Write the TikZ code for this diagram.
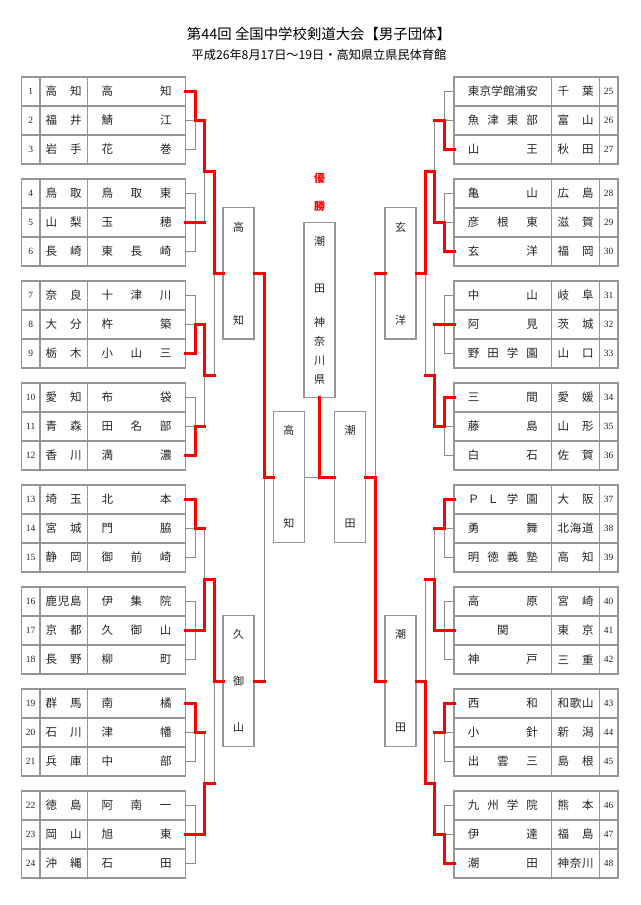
\documentclass[tikz,border=0pt]{standalone}
\usepackage{fontspec}
\setmainfont{Noto Sans CJK JP}
\newfontfamily\numfont{Liberation Serif}
\usetikzlibrary{calc}

\definecolor{tabgray}{RGB}{150,150,150}
\definecolor{lingray}{RGB}{140,140,140}
\definecolor{inkgray}{RGB}{35,35,35}

\makeatletter
\newcommand\spreadbox[2]{%
  \edef\spr@list{#2}%
  \makebox[#1][s]{\expandafter\@tfor\expandafter\spr@ch\expandafter:\expandafter=\spr@list\do{\spr@ch\hfill}\unskip}}
\makeatother

\begin{document}
\begin{tikzpicture}[x=1pt,y=-1pt,
    cell/.style={draw=tabgray,line width=1.3pt,minimum height=29pt,inner sep=0pt,outer sep=0pt,
        text=inkgray,font=\fontsize{11.5}{13}\selectfont},
    numcell/.style={cell,minimum width=18.5pt,font=\numfont\fontsize{9.5}{11}\selectfont},
    prefcell/.style={cell,minimum width=47.8pt},
    teamcell/.style={cell,minimum width=97.6pt},
    vbox/.style={draw=tabgray,line width=1.3pt,minimum width=31pt,inner sep=0pt,outer sep=0pt,
        align=center,text=inkgray,font=\fontsize{11}{13}\selectfont},
    gline/.style={draw=lingray,line width=1pt},
    rline/.style={draw=red,line width=3pt,line cap=rect}]

    \useasboundingbox (0,0) rectangle (640,905);

    \node[font=\fontsize{14.4}{16}\selectfont] (title) at (319,34)
        {第44回 全国中学校剣道大会【男子団体】};
    \node[font=\fontsize{12.2}{14}\selectfont] (venue) at (319,55)
        {平成26年8月17日～19日・高知県立県民体育館};

    % left table
    \foreach \n/\pref/\team in {
        1/高知/高知, 2/福井/鯖江, 3/岩手/花巻,
        4/鳥取/鳥取東, 5/山梨/玉穂, 6/長崎/東長崎,
        7/奈良/十津川, 8/大分/杵築, 9/栃木/小山三,
        10/愛知/布袋, 11/青森/田名部, 12/香川/満濃,
        13/埼玉/北本, 14/宮城/門脇, 15/静岡/御前崎,
        16/鹿児島/伊集院, 17/京都/久御山, 18/長野/柳町,
        19/群馬/南橘, 20/石川/津幡, 21/兵庫/中部,
        22/徳島/阿南一, 23/岡山/旭東, 24/沖縄/石田}{
        \pgfmathsetmacro\y{91.5+102*floor((\n-1)/3)+29*mod(\n-1,3)}
        \node[numcell] (n\n) at (30.7,\y) {\n};
        \node[prefcell] (p\n) at (63.7,\y) {\spreadbox{36pt}{\pref}};
        \node[teamcell] (t\n) at (136.5,\y) {\spreadbox{70pt}{\team}};
    }

    % right table
    \foreach \n/\team/\pref in {
        25/東京学館浦安/千葉, 26/魚津東部/富山, 27/山王/秋田,
        28/亀山/広島, 29/彦根東/滋賀, 30/玄洋/福岡,
        31/中山/岐阜, 32/阿見/茨城, 33/野田学園/山口,
        34/三間/愛媛, 35/藤島/山形, 36/白石/佐賀,
        37/ＰＬ学園/大阪, 38/勇舞/北海道, 39/明徳義塾/高知,
        40/高原/宮崎, 41/{\hfil 関\hfil}/東京, 42/神戸/三重,
        43/西和/和歌山, 44/小針/新潟, 45/出雲三/島根,
        46/九州学院/熊本, 47/伊達/福島, 48/潮田/神奈川}{
        \pgfmathsetmacro\y{91.5+102*floor((\n-25)/3)+29*mod(\n-25,3)}
        \node[teamcell] (t\n) at (502.9,\y) {\spreadbox{70pt}{\team}};
        \node[prefcell] (p\n) at (575.5,\y) {\spreadbox{36pt}{\pref}};
        \node[numcell] (n\n) at (608.6,\y) {\n};
    }

    % result boxes
    \node[vbox,minimum height=131.3pt] (qLa) at (238.5,273.4) {高\\[80pt]知};
    \node[vbox,minimum height=131pt] (qLb) at (238.5,681.2) {久\\[33.5pt]御\\[33.5pt]山};
    \node[vbox,minimum height=131.3pt] (qRa) at (400.5,273.4) {玄\\[80pt]洋};
    \node[vbox,minimum height=131pt] (qRb) at (400.5,681.2) {潮\\[80pt]田};
    \node[vbox,minimum height=130.6pt] (sL) at (288.8,477) {高\\[80pt]知};
    \node[vbox,minimum height=130.6pt] (sR) at (350.2,477) {潮\\[80pt]田};
    \node[vbox,minimum height=175.4pt,font=\fontsize{11}{19}\selectfont] (champ) at (319.5,310)
        {潮\\[27.7pt]田\\[15pt]神\\奈\\川\\県};
    \node[font=\bfseries\fontsize{11}{27.7}\selectfont,text=red,align=center] (win) at (319.5,192.2)
        {優\\勝};

    \coordinate (lv1) at (195,0);
    \coordinate (lv2) at (204.3,0);
    \coordinate (lv3) at (214,0);
    \coordinate (lv4) at (264,0);
    \coordinate (rv1) at (444,0);
    \coordinate (rv2) at (434.7,0);
    \coordinate (rv3) at (425,0);
    \coordinate (rv4) at (375,0);

    % grey bracket
    \foreach \a/\b/\c in {1/2/3,4/5/6,7/8/9,10/11/12,13/14/15,16/17/18,19/20/21,22/23/24}{
        \draw[gline] (t\a.east) -- (t\a.east -| lv1) -- (t\c.east -| lv1) -- (t\c.east);
        \draw[gline] (t\b.east) -- (t\b.east -| lv2);
    }
    \foreach \a/\b/\c in {25/26/27,28/29/30,31/32/33,34/35/36,37/38/39,40/41/42,43/44/45,46/47/48}{
        \draw[gline] (t\a.west) -- (t\a.west -| rv1) -- (t\c.west -| rv1) -- (t\c.west);
        \draw[gline] (t\b.west) -- (t\b.west -| rv2);
    }
    \foreach \i/\b/\d in {1/2/5,2/8/11,3/14/17,4/20/23}{
        \coordinate (w\i) at ($(t\b.east)!.5!(t\d.east)$);
        \draw[gline] (t\b.east -| lv2) -- (t\d.east -| lv2);
        \draw[gline] (w\i -| lv2) -- (w\i -| lv3);
    }
    \foreach \i/\b/\d in {5/26/29,6/32/35,7/38/41,8/44/47}{
        \coordinate (w\i) at ($(t\b.west)!.5!(t\d.west)$);
        \draw[gline] (t\b.west -| rv2) -- (t\d.west -| rv2);
        \draw[gline] (w\i -| rv2) -- (w\i -| rv3);
    }
    \draw[gline] (w1 -| lv3) -- (w2 -| lv3);
    \draw[gline] (w3 -| lv3) -- (w4 -| lv3);
    \draw[gline] (w5 -| rv3) -- (w6 -| rv3);
    \draw[gline] (w7 -| rv3) -- (w8 -| rv3);
    \draw[gline] (qLa.west -| lv3) -- (qLa.west);
    \draw[gline] (qLb.west -| lv3) -- (qLb.west);
    \draw[gline] (qRa.east -| rv3) -- (qRa.east);
    \draw[gline] (qRb.east -| rv3) -- (qRb.east);
    \draw[gline] (qLa.east) -- (qLa.east -| lv4) -- (qLb.east -| lv4) -- (qLb.east);
    \draw[gline] (qRa.west) -- (qRa.west -| rv4) -- (qRb.west -| rv4) -- (qRb.west);
    \draw[gline] (sL.west -| lv4) -- (sL.west);
    \draw[gline] (sR.east -| rv4) -- (sR.east);
    \draw[gline] (sL.east) -- (sR.west);
    \draw[gline] (champ.south) -- (champ.south |- sR.west);

    % winners in red
    \foreach \w/\m in {1/2,9/8,12/11,13/14,19/20}
        \draw[rline] (t\w.east) -- (t\w.east -| lv1) -- (t\m.east -| lv1) -- (t\m.east -| lv2);
    \foreach \w in {5,17,23}
        \draw[rline] (t\w.east) -- (t\w.east -| lv2);
    \foreach \w/\m in {27/26,30/29,34/35,37/38,43/44,48/47}
        \draw[rline] (t\w.west) -- (t\w.west -| rv1) -- (t\m.west -| rv1) -- (t\m.west -| rv2);
    \foreach \w in {32,41}
        \draw[rline] (t\w.west) -- (t\w.west -| rv2);

    \draw[rline] (t2.east -| lv2) -- (w1 -| lv2) -- (w1 -| lv3) -- (qLa.west -| lv3) -- (qLa.west);
    \draw[rline] (t8.east -| lv2) -- (w2 -| lv2) -- (w2 -| lv3);
    \draw[rline] (t17.east -| lv2) -- (w3 -| lv2) -- (w3 -| lv3) -- (qLb.west -| lv3) -- (qLb.west);
    \draw[rline] (t23.east -| lv2) -- (w4 -| lv2) -- (w4 -| lv3);
    \draw[rline] (t29.west -| rv2) -- (w5 -| rv2) -- (w5 -| rv3) -- (qRa.east -| rv3) -- (qRa.east);
    \draw[rline] (t35.west -| rv2) -- (w6 -| rv2) -- (w6 -| rv3);
    \draw[rline] (t41.west -| rv2) -- (w7 -| rv2) -- (w7 -| rv3);
    \draw[rline] (t47.west -| rv2) -- (w8 -| rv2) -- (w8 -| rv3) -- (qRb.east -| rv3) -- (qRb.east);

    \draw[rline] (qLa.east) -- (qLa.east -| lv4) -- (sL.west -| lv4) -- (sL.west);
    \draw[rline] (qLb.east) -- (qLb.east -| lv4);
    \draw[rline] (qRa.west) -- (qRa.west -| rv4);
    \draw[rline] (qRb.west) -- (qRb.west -| rv4) -- (sR.east -| rv4) -- (sR.east);
    \draw[rline] (sR.west) -- (sR.west -| champ.south) -- (champ.south);
\end{tikzpicture}
\end{document}
